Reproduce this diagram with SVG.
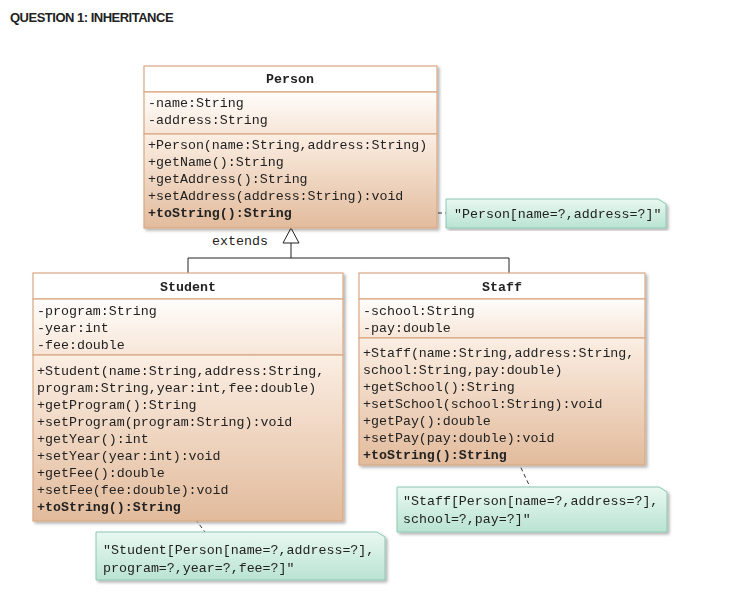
<svg xmlns="http://www.w3.org/2000/svg" width="738" height="602" viewBox="0 0 738 602">
<defs>
<linearGradient id="attr" x1="0" y1="0" x2="0" y2="1"><stop offset="0" stop-color="#fffdfb"/><stop offset="1" stop-color="#f7e6d8"/></linearGradient>
<linearGradient id="meth" x1="0" y1="0" x2="0" y2="1"><stop offset="0" stop-color="#fbeee3"/><stop offset="1" stop-color="#e2bb9c"/></linearGradient>
<linearGradient id="note" x1="0" y1="0" x2="0" y2="1"><stop offset="0" stop-color="#e9f8f2"/><stop offset="1" stop-color="#b9e3d3"/></linearGradient>
<filter id="sh" x="-5%" y="-5%" width="110%" height="115%"><feDropShadow dx="2" dy="2" stdDeviation="1.5" flood-color="#000" flood-opacity="0.3"/></filter>
</defs>
<style>
.t{font-family:"Liberation Mono","DejaVu Sans Mono",monospace;font-size:13.3px;fill:#222}
.b{font-weight:bold}
.box{stroke:#d9a883;stroke-width:1.2}
.hd{fill:#fff}
.note{fill:url(#note);stroke:#8cc8b2;stroke-width:1}
.dash{stroke:#333;stroke-dasharray:4 3;fill:none}
</style>
<rect width="738" height="602" fill="#fff"/>
<text x="10" y="22" font-family="Liberation Sans,Arial,sans-serif" font-weight="bold" font-size="13" fill="#222" letter-spacing="-0.5">QUESTION 1: INHERITANCE</text>

<g id="connectors" fill="none" stroke="#222">
<polygon points="291,228 283,243 299,243" fill="#fff"/>
<path d="M291 243V258M188 258H509M188 258V273M509 258V273"/>
<path class="dash" d="M312 213H446"/>
<path class="dash" d="M515 455L530 487"/>
<path class="dash" d="M187 508L205 532"/>
<g fill="#222" stroke="none"><circle cx="311" cy="213" r="2.5"/><circle cx="515" cy="454" r="2.5"/><circle cx="186" cy="507" r="2.5"/></g>
<text class="t" x="212" y="245" stroke="none">extends</text>
</g>

<g id="Person" filter="url(#sh)">
<rect class="box hd" x="144" y="66" width="293" height="26"/>
<rect class="box" fill="url(#attr)" x="144" y="92" width="293" height="42"/>
<rect class="box" fill="url(#meth)" x="144" y="134" width="293" height="94"/>
<text class="t b" x="290" y="83" text-anchor="middle">Person</text>
<text class="t" x="148" y="107">-name:String</text>
<text class="t" x="148" y="124">-address:String</text>
<text class="t" x="148" y="149">+Person(name:String,address:String)</text>
<text class="t" x="148" y="166">+getName():String</text>
<text class="t" x="148" y="183">+getAddress():String</text>
<text class="t" x="148" y="200">+setAddress(address:String):void</text>
<text class="t b" x="148" y="217">+toString():String</text>
</g>

<g id="Student" filter="url(#sh)">
<rect class="box hd" x="33" y="273" width="310" height="26"/>
<rect class="box" fill="url(#attr)" x="33" y="299" width="310" height="56"/>
<rect class="box" fill="url(#meth)" x="33" y="355" width="310" height="166"/>
<text class="t b" x="188" y="291" text-anchor="middle">Student</text>
<text class="t" x="37" y="315">-program:String</text>
<text class="t" x="37" y="332">-year:int</text>
<text class="t" x="37" y="349">-fee:double</text>
<text class="t" x="37" y="375">+Student(name:String,address:String,</text>
<text class="t" x="37" y="392">  program:String,year:int,fee:double)</text>
<text class="t" x="37" y="409">+getProgram():String</text>
<text class="t" x="37" y="426">+setProgram(program:String):void</text>
<text class="t" x="37" y="443">+getYear():int</text>
<text class="t" x="37" y="460">+setYear(year:int):void</text>
<text class="t" x="37" y="477">+getFee():double</text>
<text class="t" x="37" y="494">+setFee(fee:double):void</text>
<text class="t b" x="37" y="511">+toString():String</text>
</g>

<g id="Staff" filter="url(#sh)">
<rect class="box hd" x="359" y="273" width="286" height="26"/>
<rect class="box" fill="url(#attr)" x="359" y="299" width="286" height="39"/>
<rect class="box" fill="url(#meth)" x="359" y="338" width="286" height="127"/>
<text class="t b" x="502" y="291" text-anchor="middle">Staff</text>
<text class="t" x="363" y="315">-school:String</text>
<text class="t" x="363" y="332">-pay:double</text>
<text class="t" x="363" y="357">+Staff(name:String,address:String,</text>
<text class="t" x="363" y="374">  school:String,pay:double)</text>
<text class="t" x="363" y="391">+getSchool():String</text>
<text class="t" x="363" y="408">+setSchool(school:String):void</text>
<text class="t" x="363" y="425">+getPay():double</text>
<text class="t" x="363" y="442">+setPay(pay:double):void</text>
<text class="t b" x="363" y="459">+toString():String</text>
</g>

<g id="notePerson" filter="url(#sh)">
<path class="note" d="M446 199H658L666 204V228H446Z"/>
<text class="t" x="454" y="218">"Person[name=?,address=?]"</text>
</g>
<g id="noteStaff" filter="url(#sh)">
<path class="note" d="M397 487H659L667 492V532H397Z"/>
<text class="t" x="403" y="505">"Staff[Person[name=?,address=?],</text>
<text class="t" x="403" y="523">school=?,pay=?]"</text>
</g>
<g id="noteStudent" filter="url(#sh)">
<path class="note" d="M96 532H377L385 537V580H96Z"/>
<text class="t" x="103" y="554">"Student[Person[name=?,address=?],</text>
<text class="t" x="103" y="572">program=?,year=?,fee=?]"</text>
</g>
</svg>
